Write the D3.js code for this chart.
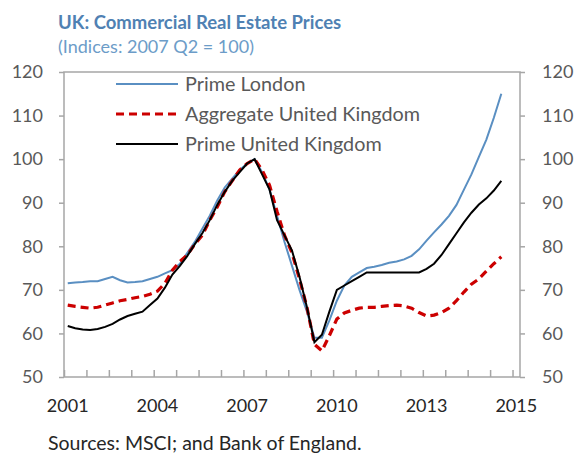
<!DOCTYPE html>
<html>
<head>
<meta charset="utf-8">
<script src="https://cdnjs.cloudflare.com/ajax/libs/d3/7.8.5/d3.min.js"></script>
<style>
  body { margin: 0; background: #fff; }
  svg text { font-family: Lato, "Open Sans", sans-serif; }
</style>
</head>
<body>
<main></main>
<script>
const width = 576;
const height = 454;
const margin = {left: 64, right: 56, top: 72, bottom: 77};

// quarterly, 2001Q1 .. 2015Q3; axis runs one category further out
const nCats = 61;
const primeLondon = [71.5, 71.7, 71.8, 72, 72, 72.5, 73, 72.2, 71.7, 71.8, 72, 72.5,
  73, 73.8, 74.5, 76, 78.5, 81, 84, 87, 90.5, 93.5, 95.5, 97.5, 99, 100,
  97, 93, 87, 81, 75.5, 70, 65, 59, 59, 63, 67.5, 71, 73, 74, 75, 75.3,
  75.7, 76.2, 76.5, 77, 77.8, 79.3, 81.3, 83.2, 85, 87, 89.5, 93, 96.5, 100.5,
  104.5, 109.5, 115];
const aggregateUK = [66.5, 66.2, 66, 65.8, 66, 66.5, 67, 67.5, 67.8, 68.2, 68.5, 69,
  69.7, 71.5, 74.5, 76.5, 78, 80.5, 82.5, 86, 89, 92.5, 95, 97.5, 99, 100,
  97.5, 94, 88, 82.5, 78.5, 72.5, 66, 57.5, 56, 59.5, 63.3, 64.7, 65.3, 65.8, 66, 66,
  66.2, 66.4, 66.5, 66.3, 65.8, 64.8, 64, 64.2, 64.8, 65.8, 67.5, 69.5, 71.3, 72.5,
  74.3, 76, 77.6];
const primeUK = [61.7, 61.2, 60.9, 60.8, 61, 61.5, 62.2, 63.2, 64, 64.5, 65, 66.5,
  68, 70.5, 73.5, 75.5, 77.8, 80.5, 83, 86, 89.5, 92.5, 95, 97, 99, 100,
  96.5, 93, 86, 82.5, 79, 73, 66, 58, 59.7, 65, 70, 71, 72, 73, 74, 74,
  74, 74, 74, 74, 74, 74, 74.8, 76, 78, 80.5, 83, 85.5, 87.7, 89.6, 91,
  92.8, 95];
const yearLabels = ["2001", "2004", "2007", "2010", "2013", "2015"];
const yearLabelIdx = [0, 12, 24, 36, 48, 60];
const yTicks = [50, 60, 70, 80, 90, 100, 110, 120];

const seriesNames = ["Prime London", "Aggregate United Kingdom", "Prime United Kingdom"];

const textGray = "#595959";
const axisGray = "#a6a6a6";

const svg = d3.select('main').append('svg')
  .attr('width', width)
  .attr('height', height);

const x = d3.scaleLinear().domain([0, nCats]).range([margin.left, width - margin.right]);
const y = d3.scaleLinear().domain([50, 120]).range([height - margin.bottom, margin.top]);

// title
svg.append('text')
  .attr('x', 58).attr('y', 29)
  .attr('fill', '#4f81b3')
  .attr('font-size', 18.5).attr('font-weight', 'bold')
  .text('UK: Commercial Real Estate Prices');
svg.append('text')
  .attr('x', 58).attr('y', 53)
  .attr('fill', '#6c9cc8')
  .attr('font-size', 18)
  .text('(Indices: 2007 Q2 = 100)');

// y axes
const styleAxis = (g) => {
  g.select('.domain').remove();
  g.selectAll('line').attr('stroke', axisGray).attr('stroke-width', 1.5);
  g.selectAll('text').attr('fill', textGray).attr('font-size', 18)
    .style('font-family', 'Lato, sans-serif');
};

svg.append('g')
  .attr('transform', `translate(${margin.left},0)`)
  .call(d3.axisLeft(y).tickValues(yTicks).tickSize(5).tickPadding(16))
  .call(styleAxis);

svg.append('g')
  .attr('transform', `translate(${width - margin.right},0)`)
  .call(d3.axisRight(y).tickValues(yTicks).tickSize(5).tickPadding(17))
  .call(styleAxis);

// x axis ticks (inside, every 3 quarters)
svg.append('g')
  .attr('transform', `translate(0,${height - margin.bottom})`)
  .call(d3.axisBottom(x).tickValues(d3.range(0, 61, 3)).tickSize(-7).tickFormat(''))
  .call(styleAxis);

svg.append('g').selectAll('text')
  .data(yearLabels)
  .enter().append('text')
  .attr('x', (d, i) => x(yearLabelIdx[i] + 0.5))
  .attr('y', 412)
  .attr('text-anchor', 'middle')
  .attr('fill', '#262626')
  .attr('font-size', 18)
  .text(d => d);

// frame
svg.append('rect')
  .attr('x', margin.left).attr('y', margin.top)
  .attr('width', width - margin.left - margin.right)
  .attr('height', height - margin.top - margin.bottom)
  .attr('fill', 'none')
  .attr('stroke', axisGray).attr('stroke-width', 1.5);

const line = d3.line()
  .x((d, i) => x(i + 0.5))
  .y(d => y(d));

svg.append('path').datum(primeLondon)
  .attr('d', line)
  .attr('fill', 'none').attr('stroke', '#5a8fc2').attr('stroke-width', 2);

svg.append('path').datum(aggregateUK)
  .attr('d', line)
  .attr('fill', 'none').attr('stroke', '#cc0000').attr('stroke-width', 3.2)
  .attr('stroke-dasharray', '8,5');

svg.append('path').datum(primeUK)
  .attr('d', line)
  .attr('fill', 'none').attr('stroke', '#000').attr('stroke-width', 2);

// legend
const legendStyles = [
  {stroke: '#5a8fc2', w: 2, dash: null},
  {stroke: '#cc0000', w: 3.2, dash: '8,5'},
  {stroke: '#000', w: 2, dash: null}
];
const legend = svg.append('g').selectAll('g')
  .data(seriesNames)
  .enter().append('g')
  .attr('transform', (d, i) => `translate(116,${84 + i * 30})`);
legend.append('line')
  .attr('x1', 0).attr('x2', 62)
  .attr('stroke', (d, i) => legendStyles[i].stroke)
  .attr('stroke-width', (d, i) => legendStyles[i].w)
  .attr('stroke-dasharray', (d, i) => legendStyles[i].dash);
legend.append('text')
  .attr('x', 69).attr('y', 7)
  .attr('fill', textGray)
  .attr('font-size', 19.8)
  .text(d => d);

svg.append('text')
  .attr('x', 48).attr('y', 450)
  .attr('fill', '#262626')
  .attr('font-size', 19.5)
  .text('Sources: MSCI; and Bank of England.');
</script>
</body>
</html>
